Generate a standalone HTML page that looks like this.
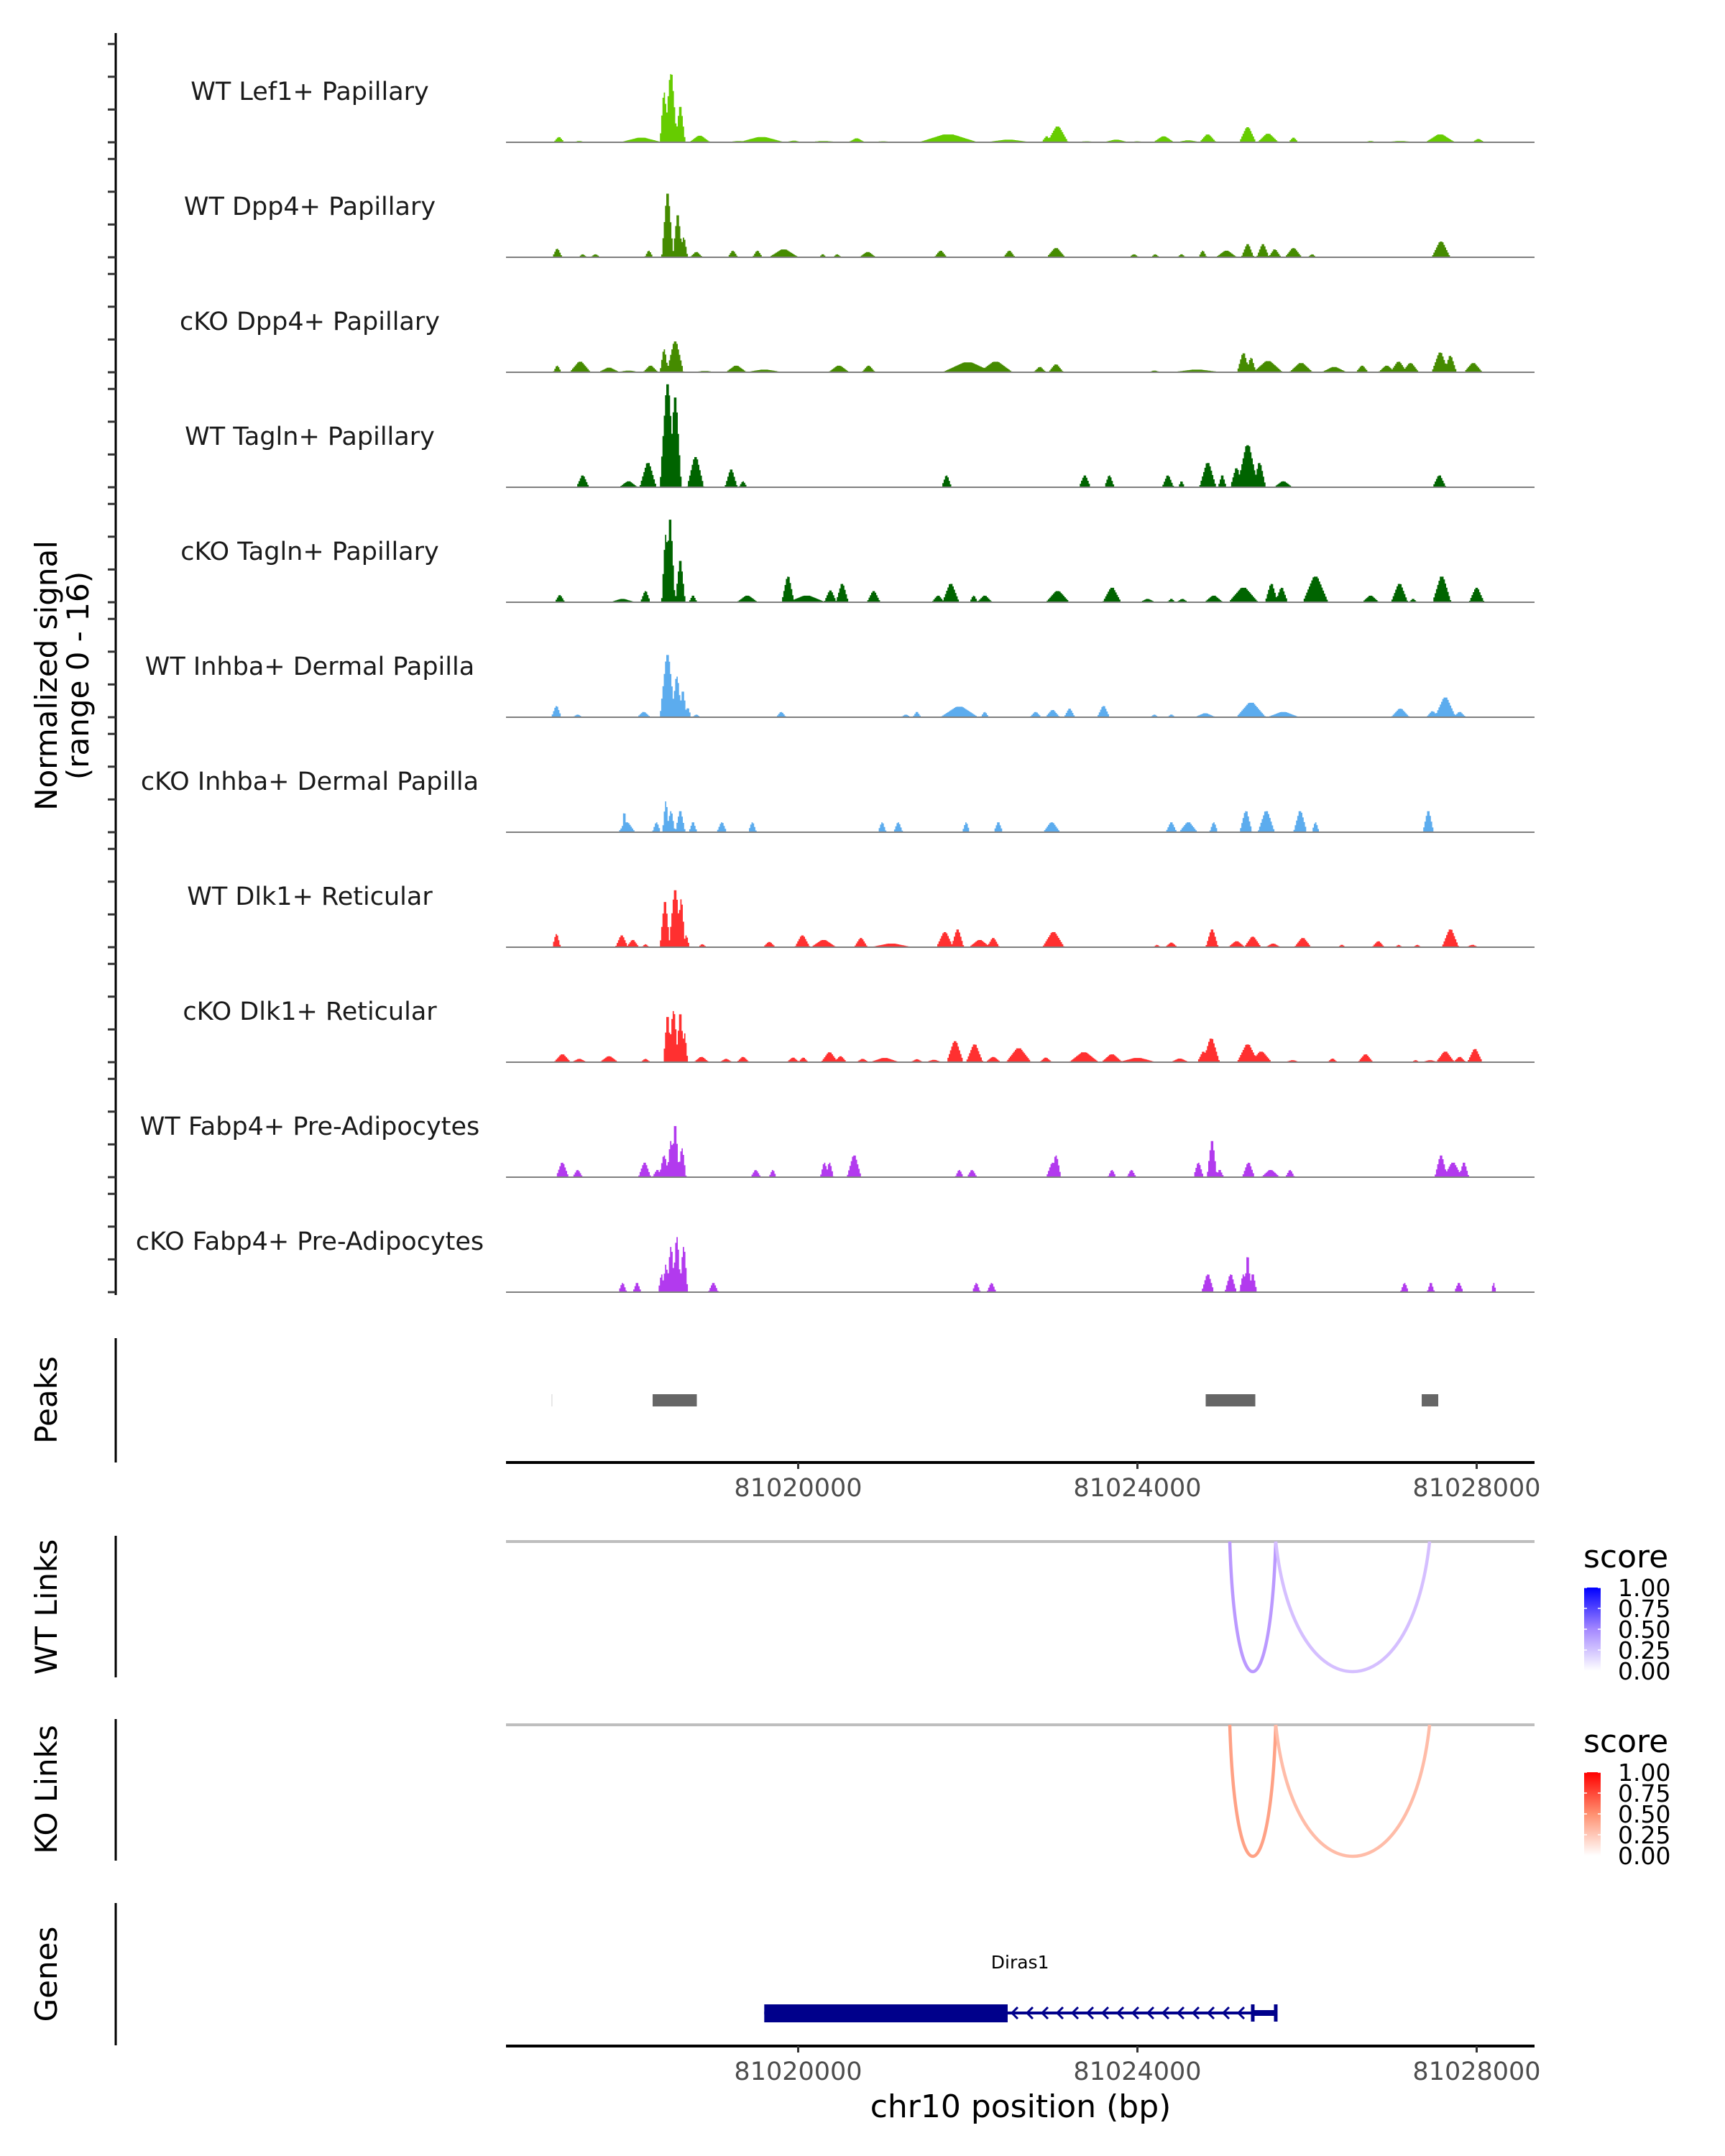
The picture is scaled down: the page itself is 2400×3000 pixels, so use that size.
<!DOCTYPE html>
<html><head><meta charset="utf-8"><style>
html,body{margin:0;padding:0;background:#fff;}
svg{display:block;font-family:"DejaVu Sans","Liberation Sans",sans-serif;}
</style></head><body>
<svg id="chart" width="2400" height="3000" viewBox="0 0 2400 3000" xmlns="http://www.w3.org/2000/svg">
<g id="tracks"></g>
<g id="lower"></g>
<text transform="translate(79,940) rotate(-90)" text-anchor="middle" font-size="42" fill="#000">Normalized signal</text>
<text transform="translate(123,940) rotate(-90)" text-anchor="middle" font-size="42" fill="#000">(range 0 - 16)</text>
<text transform="translate(79,1948) rotate(-90)" text-anchor="middle" font-size="42">Peaks</text>
<text transform="translate(79,2236) rotate(-90)" text-anchor="middle" font-size="42">WT Links</text>
<text transform="translate(79,2490) rotate(-90)" text-anchor="middle" font-size="42">KO Links</text>
<text transform="translate(79,2747) rotate(-90)" text-anchor="middle" font-size="42">Genes</text>
<text x="1420" y="2946" text-anchor="middle" font-size="44">chr10 position (bp)</text>
</svg>
<script>
// ---- data ----
const trackNames = ["WT Lef1+ Papillary","WT Dpp4+ Papillary","cKO Dpp4+ Papillary","WT Tagln+ Papillary","cKO Tagln+ Papillary","WT Inhba+ Dermal Papilla","cKO Inhba+ Dermal Papilla","WT Dlk1+ Reticular","cKO Dlk1+ Reticular","WT Fabp4+ Pre-Adipocytes","cKO Fabp4+ Pre-Adipocytes"];
const trackColors = ["#66cc00","#458b00","#458b00","#006400","#006400","#5cacee","#5cacee","#ff3030","#ff3030","#b23aee","#b23aee"];
// humps: [position (kb, offset from 81000 kb), signal height, width (kb)]
const wtLef1 = [[17.18,0.8,0.13],[17.42,0.2,0.15],[18.15,0.7,0.5],[18.42,7.6,0.1],[18.5,10.4,0.15],[18.61,5.4,0.12],[18.84,1.0,0.25],[19.3,0.2,0.3],[19.57,0.8,0.55],[19.95,0.25,0.2],[20.3,0.2,0.4],[20.69,0.6,0.2],[21.0,0.15,0.3],[21.77,1.2,0.7],[22.48,0.4,0.55],[22.93,0.9,0.12],[23.06,2.4,0.25],[23.4,0.15,0.3],[23.75,0.4,0.3],[24.0,0.15,0.2],[24.31,0.9,0.25],[24.6,0.3,0.3],[24.83,1.2,0.2],[25.3,2.3,0.2],[25.54,1.3,0.25],[25.84,0.7,0.12],[26.2,0.1,0.3],[26.75,0.2,0.15],[27.1,0.2,0.4],[27.57,1.2,0.35],[28.02,0.5,0.15]];
const wtDpp4 = [[17.16,1.3,0.12],[17.46,0.45,0.1],[17.61,0.45,0.12],[18.24,1.0,0.1],[18.46,9.7,0.14],[18.58,6.4,0.12],[18.65,3.0,0.1],[18.8,0.8,0.15],[19.23,1.0,0.12],[19.52,1.0,0.12],[19.83,1.2,0.35],[20.29,0.45,0.09],[20.46,0.45,0.1],[20.82,0.8,0.2],[21.68,1.0,0.15],[22.49,1.0,0.14],[23.04,1.4,0.22],[23.96,0.45,0.12],[24.21,0.45,0.1],[24.52,0.45,0.1],[24.77,1.0,0.1],[25.05,1.0,0.25],[25.3,2.0,0.15],[25.48,2.0,0.15],[25.62,1.2,0.15],[25.84,1.4,0.2],[26.06,0.45,0.1],[27.58,2.4,0.22]];
const koDpp4 = [[17.16,1.0,0.1],[17.43,1.6,0.25],[17.77,0.7,0.25],[18.0,0.25,0.3],[18.26,1.0,0.18],[18.42,3.5,0.1],[18.55,4.7,0.2],[18.9,0.2,0.3],[19.27,1.0,0.25],[19.6,0.4,0.45],[20.48,1.0,0.25],[20.83,1.0,0.16],[22.0,1.5,0.6],[22.33,1.6,0.4],[22.85,0.8,0.15],[23.04,1.2,0.18],[24.2,0.25,0.15],[24.7,0.4,0.6],[25.25,2.9,0.15],[25.34,2.2,0.12],[25.54,1.7,0.35],[25.93,1.4,0.28],[26.32,0.8,0.3],[26.65,1.0,0.15],[26.94,1.0,0.2],[27.08,1.6,0.2],[27.22,1.4,0.2],[27.57,3.0,0.2],[27.69,2.5,0.15],[27.96,1.4,0.22]];
const wtTagln = [[17.46,1.8,0.15],[18.0,0.9,0.22],[18.23,3.7,0.2],[18.46,15.7,0.18],[18.55,13.7,0.15],[18.79,4.6,0.2],[19.21,2.7,0.15],[19.35,0.9,0.1],[21.75,1.8,0.12],[23.38,1.8,0.14],[23.67,1.8,0.12],[24.36,1.8,0.14],[24.52,0.9,0.08],[24.83,3.7,0.2],[25.0,1.8,0.1],[25.17,2.9,0.15],[25.3,6.4,0.25],[25.44,3.7,0.15],[25.72,0.9,0.22],[27.56,1.8,0.16]];
const koTagln = [[17.19,1.1,0.12],[17.93,0.5,0.3],[18.2,1.7,0.12],[18.44,10.3,0.1],[18.49,12.6,0.12],[18.61,6.3,0.12],[18.76,1.0,0.1],[19.4,1.0,0.25],[19.88,3.9,0.15],[20.1,1.0,0.45],[20.38,1.8,0.15],[20.52,2.8,0.15],[20.89,1.7,0.16],[21.65,1.0,0.15],[21.8,2.8,0.2],[22.07,1.0,0.1],[22.2,1.0,0.18],[23.06,1.7,0.28],[23.7,2.2,0.22],[24.12,0.5,0.18],[24.4,0.5,0.1],[24.53,0.5,0.14],[24.9,1.0,0.22],[25.25,2.2,0.35],[25.58,2.8,0.15],[25.7,2.2,0.15],[26.1,3.9,0.3],[26.75,1.0,0.2],[27.09,2.8,0.2],[27.25,0.5,0.1],[27.59,3.9,0.22],[28.0,2.2,0.18]];
const wtInhba = [[17.15,1.7,0.12],[17.4,0.4,0.12],[18.18,0.8,0.16],[18.46,9.5,0.18],[18.57,6.2,0.12],[18.64,3.9,0.1],[18.7,1.4,0.08],[18.8,0.4,0.1],[19.8,0.8,0.12],[21.27,0.4,0.12],[21.4,0.8,0.1],[21.9,1.6,0.45],[22.2,0.8,0.1],[22.8,0.8,0.14],[23.0,1.1,0.17],[23.2,1.3,0.13],[23.6,1.7,0.15],[24.2,0.4,0.1],[24.4,0.4,0.1],[24.8,0.6,0.25],[25.34,2.2,0.35],[25.72,0.8,0.38],[27.1,1.3,0.22],[27.63,3.0,0.25],[27.48,0.9,0.15],[27.8,0.8,0.15]];
const koInhba = [[17.98,1.5,0.2],[17.95,3.2,0.06],[18.33,1.5,0.1],[18.44,4.7,0.08],[18.5,3.2,0.1],[18.61,3.2,0.12],[18.76,1.5,0.1],[19.1,1.5,0.12],[19.46,1.5,0.1],[20.99,1.5,0.1],[21.18,1.5,0.11],[21.98,1.5,0.09],[22.36,1.5,0.11],[22.99,1.5,0.2],[24.4,1.5,0.13],[24.6,1.5,0.22],[24.9,1.5,0.1],[25.28,3.2,0.15],[25.52,3.2,0.2],[25.92,3.2,0.16],[26.1,1.5,0.09],[27.43,3.2,0.13]];
const wtDlk1 = [[17.15,2.0,0.1],[17.92,1.8,0.15],[18.05,1.1,0.15],[18.2,0.45,0.09],[18.43,6.9,0.12],[18.55,8.7,0.15],[18.62,7.3,0.1],[18.68,1.8,0.08],[18.87,0.45,0.1],[19.66,0.8,0.15],[20.05,1.8,0.18],[20.3,1.1,0.3],[20.74,1.4,0.16],[21.1,0.55,0.5],[21.73,2.3,0.2],[21.88,2.7,0.15],[22.14,1.1,0.25],[22.3,1.4,0.15],[23.01,2.3,0.26],[24.23,0.35,0.09],[24.4,0.7,0.15],[24.88,2.7,0.15],[25.17,0.9,0.2],[25.36,1.6,0.2],[25.6,0.55,0.18],[25.95,1.4,0.2],[26.41,0.35,0.1],[26.84,0.9,0.15],[27.08,0.35,0.09],[27.3,0.35,0.1],[27.69,2.7,0.2],[27.95,0.35,0.15]];
const koDlk1 = [[17.22,1.2,0.2],[17.42,0.5,0.18],[17.77,0.9,0.22],[18.2,0.5,0.12],[18.46,6.9,0.1],[18.53,7.8,0.12],[18.61,7.3,0.1],[18.66,4.4,0.08],[18.86,0.8,0.18],[19.15,0.5,0.15],[19.35,0.8,0.15],[19.94,0.7,0.15],[20.06,0.7,0.12],[20.37,1.5,0.2],[20.5,0.9,0.15],[20.76,0.5,0.15],[21.02,0.65,0.35],[21.4,0.45,0.15],[21.6,0.35,0.2],[21.85,3.2,0.2],[22.08,2.7,0.2],[22.3,0.8,0.18],[22.6,2.1,0.3],[22.92,0.7,0.15],[23.37,1.5,0.35],[23.7,1.2,0.25],[24.0,0.65,0.45],[24.5,0.55,0.22],[24.78,1.6,0.15],[24.87,3.6,0.2],[25.3,2.7,0.25],[25.46,1.6,0.25],[25.83,0.3,0.18],[26.3,0.55,0.12],[26.69,1.2,0.18],[27.28,0.3,0.1],[27.45,0.3,0.2],[27.63,1.6,0.22],[27.8,0.8,0.15],[27.98,2.0,0.18]];
const wtFabp4 = [[17.22,2.2,0.15],[17.4,1.1,0.12],[18.19,2.2,0.15],[18.34,1.1,0.12],[18.42,3.3,0.12],[18.5,5.5,0.1],[18.55,7.8,0.1],[18.63,4.4,0.1],[19.5,1.1,0.12],[19.7,1.1,0.09],[20.31,2.2,0.1],[20.37,2.2,0.1],[20.66,3.3,0.17],[21.9,1.1,0.1],[22.05,1.1,0.12],[23.0,2.2,0.15],[23.04,3.3,0.12],[23.7,1.1,0.1],[23.93,1.1,0.11],[24.72,2.2,0.12],[24.88,5.5,0.12],[24.97,1.1,0.1],[25.31,2.2,0.15],[25.57,1.1,0.22],[25.8,1.1,0.11],[27.58,3.3,0.15],[27.72,2.2,0.22],[27.85,2.2,0.12]];
const koFabp4 = [[17.93,1.4,0.1],[18.1,1.4,0.1],[18.39,2.7,0.08],[18.44,4.2,0.08],[18.5,6.9,0.1],[18.57,8.4,0.1],[18.65,6.9,0.1],[19.0,1.4,0.12],[22.1,1.4,0.1],[22.28,1.4,0.11],[24.83,2.7,0.15],[25.1,2.7,0.14],[25.25,2.7,0.1],[25.3,5.5,0.08],[25.36,2.7,0.1],[27.15,1.4,0.1],[27.46,1.4,0.09],[27.79,1.4,0.11],[28.2,1.4,0.06]];
const trackData = [wtLef1,wtDpp4,koDpp4,wtTagln,koTagln,wtInhba,koInhba,wtDlk1,koDlk1,wtFabp4,koFabp4];
const yTickValues = [0,5,10,15];
const xTicks = [81020000,81024000,81028000];
const peakStarts = [81017090,81018284,81024805,81027352];
const peakEnds = [81017100,81018805,81025390,81027547];
const linkStarts = [81025089,81025631];
const linkEnds = [81025631,81027445];
const wtScores = [0.4,0.25];
const koScores = [0.42,0.3];
const legendLabels = ["1.00","0.75","0.50","0.25","0.00"];
const geneName = "Diras1";
const geneStart = 81019600, geneThickEnd = 81022470, geneExon2Start = 81025360, geneEnd = 81025631;

// ---- scales ----
const NS = "http://www.w3.org/2000/svg";
const PX0 = 704, PX1 = 2135;
const xs = bp => 1110.5 + (bp - 81020000) * 0.118;
const bpMin = 81020000 - (1110.5 - PX0) / 0.118, bpMax = 81020000 + (PX1 - 1110.5) / 0.118;
const base0 = 198, trackStep = 160, unitPx = 9.12;
function mk(tag, attrs, parent) { const e = document.createElementNS(NS, tag); for (const k in attrs) e.setAttribute(k, attrs[k]); parent.appendChild(e); return e; }
const svg = document.getElementById('chart');
const gT = document.getElementById('tracks');
const gL = document.getElementById('lower');

const ax = mk('line', {x1:161,y1:46,x2:161,y2:1802,stroke:'#000','stroke-width':3}, gT);



function hv(h, w, d) { const a = Math.abs(d), hw = w / 2, core = w * 0.08; if (a >= hw) return 0; if (a <= core) return h; return h * (hw - a) / (hw - core); }

trackData.forEach((humps, ti) => {
  const b = base0 + ti * trackStep;
  const g = mk('g', {}, gT);
  
  
  yTickValues.forEach(v => {
    const t = mk('line', {x1:150,x2:161,y1:b - v * unitPx,y2:b - v * unitPx,stroke:'#333','stroke-width':3}, g);
    
    
  });
  const lbl = mk('text', {x:431,y:b - 71 + 12,'text-anchor':'middle','font-size':35,fill:'#1a1a1a'}, g);
  lbl.textContent = trackNames[ti];
  
  
  const bin = 15;
  let d = 'M' + PX0 + ',' + b;
  for (let bp = bpMin; bp < bpMax; bp += bin) {
    const kb = (bp + bin / 2) / 1000 - 81000;
    let v = 0;
    humps.forEach(hm => { v = Math.max(v, hv(hm[1], hm[2], kb - hm[0])); });
    v = Math.min(v, 16);
    const y = (b - v * unitPx).toFixed(1);
    d += 'L' + xs(bp).toFixed(1) + ',' + y + 'L' + xs(bp + bin).toFixed(1) + ',' + y;
  }
  d += 'L' + PX1 + ',' + b + 'Z';
  const area = mk('path', {d:d,fill:trackColors[ti]}, g);
  
  
  const bl = mk('line', {x1:PX0,x2:PX1,y1:b,y2:b,stroke:'#7f7f7f','stroke-width':2}, g);
  
  
});

function sideAxis(y1, y2, name) {
  const l = mk('line', {x1:161,x2:161,y1:y1,y2:y2,stroke:'#000','stroke-width':3}, gL);
  
  
}
sideAxis(1862, 2035, 'peaks-axis');
sideAxis(2137, 2334, 'wt-links-axis');
sideAxis(2392, 2589, 'ko-links-axis');
sideAxis(2648, 2846, 'genes-axis');

peakStarts.forEach((s, i) => {
  const w = Math.max(xs(peakEnds[i]) - xs(s), 1.5);
  const r = mk('rect', {x:xs(s),y:1940,width:w,height:17,fill:i === 0 ? '#e0e0e0' : '#666666'}, gL);
  
  
});

function xAxis(y, name) {
  const g = mk('g', {}, gL);
  
  
  mk('line', {x1:PX0,x2:PX1,y1:y,y2:y,stroke:'#000','stroke-width':4}, g);
  xTicks.forEach(t => {
    mk('line', {x1:xs(t),x2:xs(t),y1:y,y2:y + 9,stroke:'#333','stroke-width':3}, g);
    const tx = mk('text', {x:xs(t),y:y + 47,'text-anchor':'middle','font-size':35,fill:'#4d4d4d'}, g);
    tx.textContent = String(t);
    
    
  });
}
xAxis(2035, 'peaks-x-axis');
xAxis(2847, 'genes-x-axis');

function links(base, scores, colorFn, name, depth) {
  const g = mk('g', {}, gL);
  
  
  mk('line', {x1:PX0,x2:PX1,y1:base,y2:base,stroke:'#bebebe','stroke-width':4}, g);
  linkStarts.forEach((s, i) => {
    const x1 = xs(s), x2 = xs(linkEnds[i]), c = base + depth * 4 / 3, k = (x2 - x1) * 0.12;
    const p = mk('path', {d:`M${x1},${base} C${x1 + k},${c} ${x2 - k},${c} ${x2},${base}`,fill:'none',stroke:colorFn(scores[i]),'stroke-width':4.5}, g);
    
    
  });
}
links(2145, wtScores, s => `rgb(${Math.round(255 - s * 170)},${Math.round(255 - s * 255)},255)`, 'wt-links', 181);
links(2400, koScores, s => `rgb(255,${Math.round(255 - s * 225)},${Math.round(255 - s * 290)})`, 'ko-links', 183);

function legend(top, c1, cm, name, idx) {
  const g = mk('g', {}, gL);
  
  
  const defs = mk('defs', {}, g);
  const lg = mk('linearGradient', {id:'grad' + idx,x1:0,y1:0,x2:0,y2:1}, defs);
  mk('stop', {offset:'0','stop-color':c1}, lg);
  mk('stop', {offset:'0.5','stop-color':cm}, lg);
  mk('stop', {offset:'1','stop-color':'#ffffff'}, lg);
  const t = mk('text', {x:2203,y:top - 28,'font-size':44}, g);
  t.textContent = 'score';
  mk('rect', {x:2204,y:top,width:23,height:116,fill:`url(#grad${idx})`}, g);
  legendLabels.forEach((lab, i) => {
    const y = top + i * 29;
    mk('line', {x1:2204,x2:2208,y1:y,y2:y,stroke:'#fff','stroke-width':1.5}, g);
    mk('line', {x1:2223,x2:2227,y1:y,y2:y,stroke:'#fff','stroke-width':1.5}, g);
    const tl = mk('text', {x:2251,y:y + 12,'font-size':33}, g);
    tl.textContent = lab;
  });
}
legend(2209, '#0000ff', '#a488ff', 'wt-score-legend', 1);
legend(2466, '#ff0000', '#ff9070', 'ko-score-legend', 2);

const gg = mk('g', {}, gL);


const gy = 2801;
mk('line', {x1:xs(geneStart),x2:xs(geneEnd),y1:gy,y2:gy,stroke:'#00008b','stroke-width':4}, gg);
mk('rect', {x:xs(geneStart),y:gy - 12,width:xs(geneThickEnd) - xs(geneStart),height:25,fill:'#00008b'}, gg);
mk('rect', {x:xs(geneExon2Start),y:gy - 4,width:xs(geneEnd) - xs(geneExon2Start),height:8,fill:'#00008b'}, gg);
[geneExon2Start, geneEnd].forEach(p => mk('line', {x1:xs(p),x2:xs(p),y1:gy - 12,y2:gy + 12,stroke:'#00008b','stroke-width':5}, gg));
for (let x = xs(geneThickEnd) + 6; x < xs(geneExon2Start) - 8; x += 21) {
  mk('polyline', {points:`${x + 8},${gy - 8} ${x},${gy} ${x + 8},${gy + 8}`,fill:'none',stroke:'#00008b','stroke-width':3}, gg);
}
const gl = mk('text', {x:(xs(geneStart) + xs(geneEnd)) / 2,y:2739,'text-anchor':'middle','font-size':25}, gg);
gl.textContent = geneName;


</script>
</body></html>
